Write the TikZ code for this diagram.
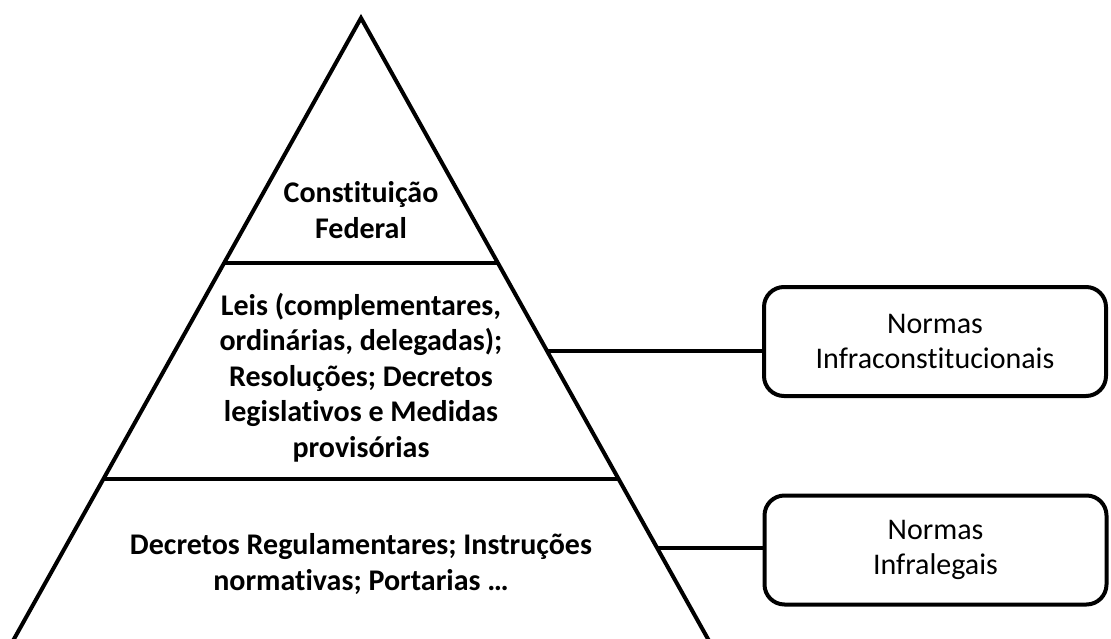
\documentclass[tikz,border=0pt]{standalone}
\usepackage{fontspec}
\setmainfont{Carlito}[Ligatures=CommonOff]
\usetikzlibrary{calc}
\begin{document}
\begin{tikzpicture}[x=1pt,y=-1pt,line width=4pt,
  lvl/.style={font=\fontsize{30}{35.5}\selectfont\bfseries,align=center,inner sep=0pt,anchor=base},
  normbox/.style={draw,rounded corners=20pt,minimum width=342pt,minimum height=109pt,
    align=center,inner sep=0pt,font=\fontsize{30}{35}\selectfont}]
\useasboundingbox (0,0) rectangle (1111,639);
\clip (0,0) rectangle (1111,639);
\coordinate (A) at (361,18);
\coordinate (BL) at (14,639);
\coordinate (BR) at (708,639);
% pyramid sides
\draw[line join=miter] ($(A)!1.03!(BL)$) -- (A) -- ($(A)!1.03!(BR)$);
% level lines
\coordinate (L1l) at ($(A)!0.3945!(BL)$);
\coordinate (L1r) at ($(A)!0.3945!(BR)$);
\coordinate (L2l) at ($(A)!0.7424!(BL)$);
\coordinate (L2r) at ($(A)!0.7424!(BR)$);
\draw (L1l) -- (L1r);
\draw (L2l) -- (L2r);
% texts
\node[lvl] (cf) at (361,238) {Constituição\\Federal};
\node[lvl] (leis) at (361,457) {Leis (complementares,\\ordinárias, delegadas);\\Resoluções; Decretos\\legislativos e Medidas\\provisórias};
\node[lvl] (dec) at (361,590) {Decretos Regulamentares; Instruções\\normativas; Portarias \dots};
% boxes
\node[normbox] (b1) at (935,341.5) {Normas\\Infraconstitucionais};
\node[normbox] (b2) at (935.5,550) {Normas\\Infralegais};
% connectors
\coordinate (c1) at ($(A)!0.5362!(BR)$);
\coordinate (c2) at ($(A)!0.8535!(BR)$);
\draw (c1) -- (c1 -| b1.west);
\draw (c2) -- (c2 -| b2.west);
\end{tikzpicture}
\end{document}
